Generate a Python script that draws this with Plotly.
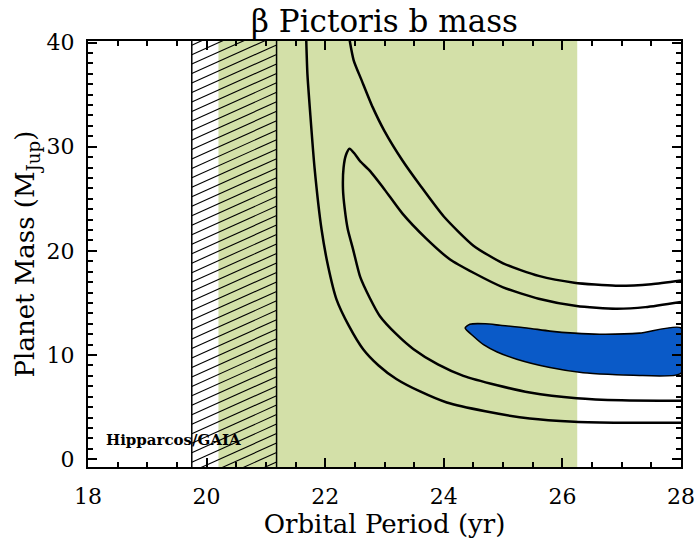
import numpy as np
import plotly.graph_objects as go

# ---- data ----
x_ticks = [18, 20, 22, 24, 26, 28]
y_ticks = [0, 10, 20, 30, 40]

# regions (orbital period, yr)
green_band = [20.2, 26.25]
hatch_band = [19.75, 21.18]

# outer contour, upper branch
outerA_x = [22.41, 22.48, 22.62, 22.8, 23.0, 23.3, 23.6, 24.0, 24.5, 25.0, 25.6, 26.2, 26.9, 27.5, 28.0]
outerA_y = [40.3, 38.3, 36.3, 33.8, 31.5, 28.7, 26.3, 23.3, 20.5, 18.8, 17.6, 16.95, 16.65, 16.8, 17.15]

# outer contour, left/lower branch
outerC_x = [21.68, 21.7, 21.75, 21.82, 21.94, 22.05, 22.19, 22.4, 22.64, 22.9, 23.2, 23.6, 24.05, 24.7, 25.45, 26.2, 27.0, 28.0]
outerC_y = [40.3, 37.0, 33.0, 28.0, 22.0, 18.5, 15.35, 12.8, 10.56, 9.0, 7.7, 6.5, 5.44, 4.6, 3.9, 3.6, 3.5, 3.5]

# middle contour (closed at right edge)
midB_x = [28.0, 27.4, 26.9, 26.24, 25.6, 25.0, 24.5, 24.1, 23.7, 23.3, 23.0, 22.75, 22.59, 22.5, 22.41,
          22.35, 22.31, 22.3, 22.33, 22.38, 22.47, 22.59, 22.75, 22.92, 23.2, 23.49, 23.9, 24.33, 24.9,
          25.45, 26.24, 27.0, 28.0]
midB_y = [15.1, 14.6, 14.45, 14.7, 15.4, 16.5, 17.9, 19.2, 21.2, 23.6, 25.9, 27.7, 28.6, 29.3, 29.8,
          29.2, 28.0, 25.9, 24.0, 22.1, 20.15, 17.5, 15.5, 13.75, 12.0, 10.56, 9.1, 8.0, 7.1,
          6.4, 5.85, 5.65, 5.6]

# inner (filled) region
blue_x = [24.36, 24.44, 24.7, 24.95, 25.4, 25.79, 26.2, 26.63, 27.3, 28.0,
          28.0, 27.2, 26.35, 25.79, 25.23, 24.9, 24.67, 24.5, 24.36]
blue_y = [12.6, 12.96, 13.0, 12.86, 12.6, 12.3, 12.1, 12.0, 12.1, 12.6,
          8.25, 8.06, 8.3, 8.8, 9.6, 10.3, 11.0, 11.8, 12.6]

label_text = "Hipparcos/GAIA"
label_pos = (18.27, 1.8)

x_range = [18, 28]
y_range = [-0.75, 40.15]

GREEN = "#d3e0a8"
BLUE = "#0a5ac8"
FONT = "DejaVu Serif"

W, H = 695, 540
ML, MR, MT, MB = 88, 14, 41, 73

fig = go.Figure()

# hatch lines across the hatched band
hatch_slope = 2.56
hatch_step = 0.91
hx, hy = [], []
for s in np.arange(y_range[0] - 5, y_range[1] + 1, hatch_step):
    hx += [hatch_band[0], hatch_band[1], None]
    hy += [s, s + hatch_slope * (hatch_band[1] - hatch_band[0]), None]
fig.add_trace(go.Scatter(x=hx, y=hy, mode="lines", line=dict(color="black", width=1.1),
                         hoverinfo="skip", showlegend=False))

line_style = dict(color="black", width=2.5, shape="spline", smoothing=0.6)
fig.add_trace(go.Scatter(x=outerA_x, y=outerA_y, mode="lines", line=line_style, showlegend=False))
fig.add_trace(go.Scatter(x=outerC_x, y=outerC_y, mode="lines", line=line_style, showlegend=False))
fig.add_trace(go.Scatter(x=midB_x, y=midB_y, mode="lines", line=line_style, showlegend=False))
fig.add_trace(go.Scatter(x=blue_x, y=blue_y, mode="lines", fill="toself", fillcolor=BLUE,
                         line=dict(color="black", width=1.6, shape="spline", smoothing=0.6),
                         showlegend=False))

shapes = [
    dict(type="rect", xref="x", yref="paper", x0=green_band[0], x1=green_band[1], y0=0, y1=1,
         fillcolor=GREEN, line=dict(width=0), layer="below"),
    dict(type="line", xref="x", yref="paper", x0=hatch_band[0], x1=hatch_band[0], y0=0, y1=1,
         line=dict(color="black", width=1.5)),
    dict(type="line", xref="x", yref="paper", x0=hatch_band[1], x1=hatch_band[1], y0=0, y1=1,
         line=dict(color="black", width=1.5)),
]

fig.add_annotation(x=label_pos[0], y=label_pos[1], text=label_text, showarrow=False,
                   xanchor="left", yanchor="middle",
                   font=dict(family=FONT, size=15, color="black", weight="bold"))

axis_common = dict(
    showline=True, linecolor="black", linewidth=2, mirror="ticks",
    ticks="inside", tickcolor="black", tickwidth=2, ticklen=9,
    showgrid=False, zeroline=False, automargin=False,
    tickfont=dict(family=FONT, size=22, color="black"),
)

fig.update_layout(
    width=W, height=H,
    margin=dict(l=ML, r=MR, t=MT, b=MB),
    paper_bgcolor="white", plot_bgcolor="white",
    shapes=shapes,
    title=dict(text="β Pictoris b mass", x=(ML + (W - MR)) / 2 / W, xanchor="center",
               y=1 - 21 / H, yanchor="middle",
               font=dict(family=FONT, size=31, color="black")),
    xaxis=dict(range=x_range, tickvals=x_ticks, ticklabelstandoff=9,
               minor=dict(dtick=0.5, ticks="inside", ticklen=5, tickwidth=2, tickcolor="black"),
               title=dict(text="Orbital Period (yr)", font=dict(family=FONT, size=26, color="black"),
                          standoff=4),
               **axis_common),
    yaxis=dict(range=y_range, tickvals=y_ticks, ticklabelstandoff=7,
               minor=dict(dtick=1, ticks="inside", ticklen=5, tickwidth=2, tickcolor="black"),
               title=dict(text="Planet Mass (M<sub>Jup</sub>)", font=dict(family=FONT, size=26, color="black"),
                          standoff=4),
               **axis_common),
)

fig.write_html("out.html", config={"displayModeBar": False},
               post_script="document.body.style.margin='0';document.body.style.overflow='hidden';")
